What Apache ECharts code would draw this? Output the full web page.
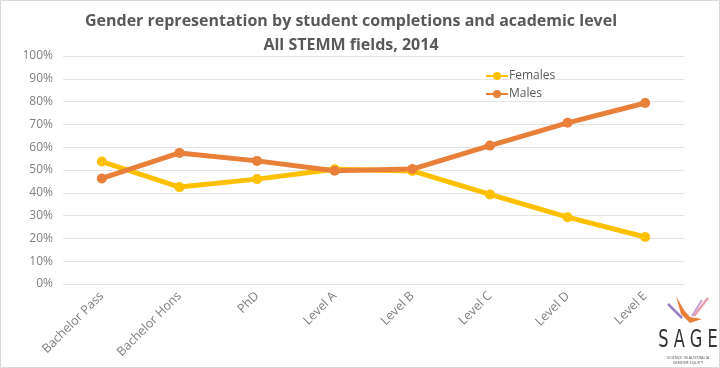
<!DOCTYPE html>
<html><head><meta charset="utf-8">
<script src="https://cdn.jsdelivr.net/npm/echarts@6/dist/echarts.min.js"></script>
<style>html,body{margin:0;padding:0;background:#fff}#c{width:720px;height:368px}</style>
</head><body><div id="c"></div>
<script>
const categories = ['Bachelor Pass','Bachelor Hons','PhD','Level A','Level B','Level C','Level D','Level E'];
const females = [53.7, 42.5, 46.0, 50.3, 49.6, 39.3, 29.3, 20.6];
const males = [46.3, 57.5, 54.0, 49.7, 50.4, 60.7, 70.7, 79.4];
const yTicks = [0,10,20,30,40,50,60,70,80,90,100];

const chart = echarts.init(document.getElementById('c'), null, {renderer:'canvas'});
const font = 'Open Sans, Noto Sans, sans-serif';
chart.setOption({
  animation:false,
  backgroundColor:'#fff',
  title:{
    text:'Gender representation by student completions and academic level\nAll STEMM fields, 2014',
    left:346, top:4, textAlign:'center',
    textStyle:{fontFamily:font, fontSize:16, fontWeight:'bold', color:'#595959', lineHeight:24}
  },
  legend:{
    orient:'vertical', left:480, top:65, itemGap:6, itemWidth:22, itemHeight:10,
    textStyle:{fontFamily:font, fontSize:12, color:'#595959', padding:[0,0,0,-4]},
    data:['Females','Males']
  },
  grid:{left:63, right:36, top:56, bottom:84},
  xAxis:{
    type:'category', data:categories, boundaryGap:true,
    axisLine:{show:false}, axisTick:{show:false},
    axisLabel:{rotate:45, fontFamily:font, fontSize:12.5, color:'#7f7f7f', margin:10, interval:0}
  },
  yAxis:{
    type:'value', min:yTicks[0], max:yTicks[yTicks.length-1], interval:10,
    axisLine:{show:false}, axisTick:{show:false},
    axisLabel:{formatter:'{value}%', fontFamily:font, fontSize:12, color:'#7f7f7f', margin:10},
    splitLine:{lineStyle:{color:'#e4e4e4', width:1}}
  },
  series:[
    {name:'Females', type:'line', data:females, symbol:'circle', symbolSize:10,
     lineStyle:{width:5, color:'#FFC000'}, itemStyle:{color:'#FFC000'}},
    {name:'Males', type:'line', data:males, symbol:'circle', symbolSize:10,
     lineStyle:{width:5, color:'#E8803A'}, itemStyle:{color:'#E8803A'}}
  ],
  graphic:[
    {type:'line', shape:{x1:668,y1:304,x2:682,y2:318}, style:{stroke:'#9b7fc4', lineWidth:2.5}},
    {type:'line', shape:{x1:708,y1:298,x2:694,y2:316}, style:{stroke:'#e7a0b0', lineWidth:2.5}},
    {type:'line', shape:{x1:702,y1:300,x2:692,y2:316}, style:{stroke:'#c9a0d0', lineWidth:2}},
    {type:'polygon', shape:{points:[[676,296],[681,314],[690,323],[702,319],[690,317],[684,310]]}, style:{fill:'#E8803A'}},
    {type:'text', x:688, y:329, scaleY:1.35, style:{x:0, y:0, text:'S A G E', textAlign:'center', textVerticalAlign:'top', fontFamily:'DejaVu Sans Condensed, Liberation Sans Narrow, sans-serif', fontSize:18, fill:'#333'}},
    {type:'text', x:688, y:355, style:{x:0, y:0, text:'SCIENCE IN AUSTRALIA\nGENDER EQUITY', textAlign:'center', textVerticalAlign:'top', fontFamily:font, fontSize:4, lineHeight:5, fill:'#555'}},
    {type:'rect', shape:{x:0.5,y:0.5,width:719,height:367}, style:{fill:'none', stroke:'#d9d9d9', lineWidth:1}}
  ]
});
</script></body></html>
